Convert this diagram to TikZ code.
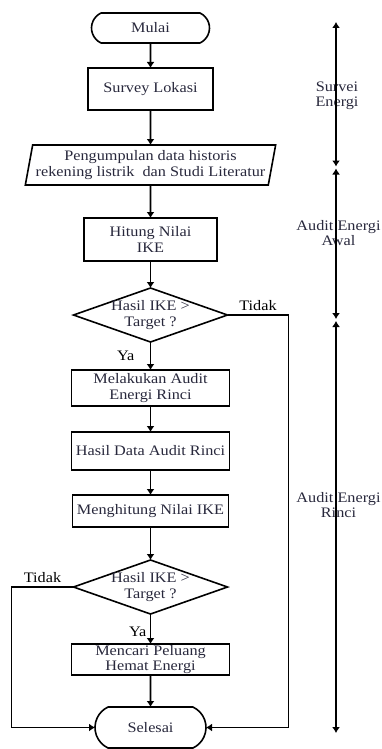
\documentclass[tikz,border=0pt]{standalone}
\usepackage{fontspec}
\setmainfont{Liberation Serif}[FakeStretch=1.12]
\usepackage{xcolor}
\usepackage{tikz}
\usetikzlibrary{arrows.meta,shapes,positioning}

\definecolor{teks}{RGB}{40,40,60}

\begin{document}
\begin{tikzpicture}[x=1pt,y=-1pt,font=\fontsize{14.5}{15.5}\selectfont]
      \tikzstyle{terminal}=[rounded rectangle, rounded rectangle arc length=130, draw, line width=1.6pt, text=teks, minimum width=118pt, minimum height=30pt, inner sep=0pt, outer sep=0pt]
      \tikzstyle{process}=[rectangle, draw, line width=1.6pt, text=teks, align=center, inner xsep=1pt, inner ysep=0pt, outer sep=0pt]
      \tikzstyle{data_io}=[trapezium, trapezium left angle=76, trapezium right angle=104, trapezium stretches=true, draw, line width=1.6pt, text=teks, align=center, inner sep=0pt, outer sep=0pt, minimum width=251pt, minimum height=40pt]
      \tikzstyle{decision}=[diamond, draw, line width=1.6pt, inner sep=0pt, outer sep=0pt, minimum width=154pt, minimum height=54pt]
      \tikzstyle{decision_text}=[text=teks, align=center, inner sep=0pt]
      \tikzstyle{flow}=[-{Latex[length=6pt,width=8pt]}, line width=1.7pt]
      \tikzstyle{phase}=[{Latex[length=6pt,width=8pt]}-{Latex[length=6pt,width=8pt]}, line width=1.7pt]
      \tikzstyle{phase_text}=[text=teks, align=center, inner sep=0pt]

      \useasboundingbox (0,0) rectangle (381,749);

      \node [terminal] (mulai) at (150.5,28) {Mulai};
      \node [process, minimum width=125pt, minimum height=42pt] (survey) [below=25pt of mulai] {Survey Lokasi};
      \node [data_io] (data) [below=35pt of survey] {Pengumpulan data historis\\rekening listrik\ \ dan Studi Literatur};
      \node [process, minimum width=133pt, minimum height=43pt] (hitung) [below=33pt of data] {Hitung Nilai\\IKE};
      \node [decision] (cek1) [below=27pt of hitung] {};
      \node [decision_text] (cek1_text) at (cek1) {Hasil IKE >\\Target ?};
      \node [process, minimum width=158pt, minimum height=36pt] (audit) [below=28pt of cek1] {Melakukan Audit\\Energi Rinci};
      \node [process, minimum width=158pt, minimum height=38pt] (hasil) [below=26pt of audit] {Hasil Data Audit Rinci};
      \node [process, minimum width=156pt, minimum height=32pt] (nilai) [below=25pt of hasil] {Menghitung Nilai IKE};
      \node [decision] (cek2) [below=33pt of nilai] {};
      \node [decision_text] (cek2_text) at (cek2) {Hasil IKE >\\Target ?};
      \node [process, minimum width=158pt, minimum height=31pt] (peluang) [below=30pt of cek2] {Mencari Peluang\\Hemat Energi};
      \node [terminal, minimum width=111pt, minimum height=41pt] (selesai) [below=32pt of peluang] {Selesai};

      \draw [flow] (mulai) -- (survey);
      \draw [flow] (survey) -- (data);
      \draw [flow] (data) -- (hitung);
      \draw [flow] (hitung) -- (cek1);
      \draw [flow] (cek1) -- node [left=12pt] (ya1) {Ya} (audit);
      \draw [flow] (audit) -- (hasil);
      \draw [flow] (hasil) -- (nilai);
      \draw [flow] (nilai) -- (cek2);
      \draw [flow] (cek2) -- node [left, pos=0.6] (ya2) {Ya} (peluang);
      \draw [flow] (peluang) -- (selesai);
      \draw [flow] (cek1.east) -- node [above] (tidak1) {Tidak} ++(61,0) |- (selesai.east);
      \draw [flow] (cek2.west) -- node [above] (tidak2) {Tidak} ++(-62,0) |- (selesai.west);

      \node [phase_text] (survei) at (337,96) {Survei\\Energi};
      \node [phase_text] (awal) at (338.5,233) {Audit Energi\\Awal};
      \node [phase_text] (rinci) at (338.5,505) {Audit Energi\\Rinci};

      \coordinate (s0) at (336,22);
      \coordinate (s1) at (336,166.5);
      \coordinate (s2) at (336,168.5);
      \coordinate (s3) at (336,319);
      \coordinate (s4) at (336,321);
      \coordinate (s5) at (336,733);
      \draw [phase] (s0) -- (s1);
      \draw [phase] (s2) -- (s3);
      \draw [phase] (s4) -- (s5);

    \end{tikzpicture}
\end{document}
